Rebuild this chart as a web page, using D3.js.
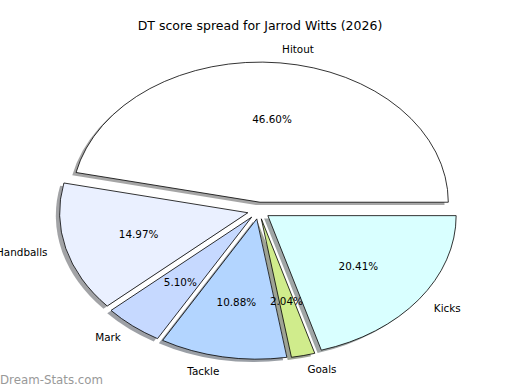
<!DOCTYPE html>
<html>
<head>
<meta charset="utf-8">
<script src="https://cdn.jsdelivr.net/npm/d3@7"></script>
<style>
  body { margin: 0; background: #fff; }
  svg text { font-family: "DejaVu Sans", sans-serif; }
</style>
</head>
<body>
<div id="chart"></div>
<script>
// data
const categories = ["Hitout", "Handballs", "Mark", "Tackle", "Goals", "Kicks"];
const shares = [46.60, 14.97, 5.10, 10.88, 2.04, 20.41];
const colors = ["#ffffff", "#eaf0ff", "#c6d9ff", "#b3d5ff", "#d0ec8c", "#d9ffff"];
const title = "DT score spread for Jarrod Witts (2026)";

// geometry of the (squashed) pie
var width = 520, height = 390;
var cx = 258.8, cy = 210.6;
var rx = 188.3, ry = 140.3;
var explode = 0.06;

var svg = d3.select("#chart")
  .append("svg")
  .attr("width", width)
  .attr("height", height);

svg.append("rect").attr("width", width).attr("height", height).attr("fill", "#fff");

// start at 3 o'clock and run counter-clockwise like matplotlib
var pie = d3.pie().sort(null).startAngle(Math.PI / 2).endAngle(Math.PI / 2 - 2 * Math.PI);
var arcs = pie(shares);
var arc = d3.arc().innerRadius(0).outerRadius(1);

function mid(d) { return (d.startAngle + d.endAngle) / 2; }
function offX(d) { return Math.sin(mid(d)) * explode * rx; }
function offY(d) { return -Math.cos(mid(d)) * explode * ry; }

function shade(c) {
  var rgb = d3.rgb(c);
  return d3.rgb(rgb.r * 0.3, rgb.g * 0.3, rgb.b * 0.3);
}

// shadows first, underneath everything
svg.selectAll("path.shadow")
  .data(arcs)
  .enter()
  .append("path")
  .attr("class", "shadow")
  .attr("d", arc)
  .attr("transform", function(d) {
    return "translate(" + (cx + offX(d) - 0.02 * rx) + "," + (cy + offY(d) + 0.02 * ry) + ") scale(" + rx + "," + ry + ")";
  })
  .style("fill", function(d, i) { return shade(colors[i]); })
  .style("opacity", 0.5);

svg.selectAll("path.wedge")
  .data(arcs)
  .enter()
  .append("path")
  .attr("class", "wedge")
  .attr("d", arc)
  .attr("transform", function(d) {
    return "translate(" + (cx + offX(d)) + "," + (cy + offY(d)) + ") scale(" + rx + "," + ry + ")";
  })
  .style("fill", function(d, i) { return colors[i]; })
  .style("stroke", "#000")
  .style("stroke-width", 0.8)
  .attr("vector-effect", "non-scaling-stroke");

// percentage labels
svg.selectAll("text.pct")
  .data(arcs)
  .enter()
  .append("text")
  .attr("class", "pct")
  .attr("x", function(d) { return cx + offX(d) + 0.6 * rx * Math.sin(mid(d)); })
  .attr("y", function(d) { return cy + offY(d) - 0.6 * ry * Math.cos(mid(d)); })
  .attr("text-anchor", "middle")
  .attr("dominant-baseline", "central")
  .style("font-size", "10.4px")
  .text(function(d) { return d.data.toFixed(2) + "%"; });

// category labels
svg.selectAll("text.cat")
  .data(arcs)
  .enter()
  .append("text")
  .attr("class", "cat")
  .attr("x", function(d) { return cx + offX(d) + 1.1 * rx * Math.sin(mid(d)); })
  .attr("y", function(d) { return cy + offY(d) - 1.1 * ry * Math.cos(mid(d)); })
  .attr("text-anchor", function(d) { return Math.sin(mid(d)) > 0 ? "start" : "end"; })
  .attr("dominant-baseline", "central")
  .style("font-size", "10.4px")
  .text(function(d, i) { return categories[i]; });

svg.append("text")
  .attr("x", 260)
  .attr("y", 30)
  .attr("text-anchor", "middle")
  .style("font-size", "12.5px")
  .text(title);

// watermark
svg.append("text")
  .attr("x", 0)
  .attr("y", 384)
  .style("font-size", "11.8px")
  .style("fill", "#999")
  .text("Dream-Stats.com");
</script>
</body>
</html>
